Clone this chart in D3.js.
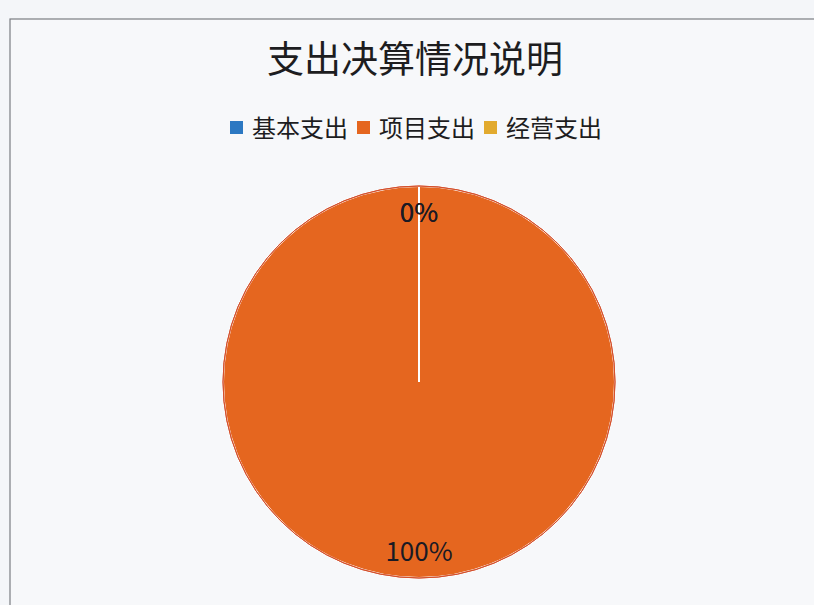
<!DOCTYPE html>
<meta charset='utf-8'>
<script src='https://d3js.org/d3.v7.min.js'></script>
<style>
body{margin:0;background:#f4f6f9;}
text{font-family:'Noto Sans CJK SC','Noto Sans',sans-serif;}
</style>
<svg id='chart'></svg>
<script>
// 支出决算情况说明 data
var categories=['基本支出','项目支出','经营支出'];
var values=[0,100,0];
var colors=['#2c78c2','#e5661f','#e2aa2e'];
var title='支出决算情况说明';

var width=814,height=605,
    cx=419,cy=382,radius=196;

var svg=d3.select('#chart').attr('width',width).attr('height',height);

svg.append('rect').attr('x',10).attr('y',19)
   .attr('width',width).attr('height',height)
   .attr('fill','#f7f8fa').attr('stroke','#7a7d82').attr('stroke-width',1.2);

svg.append('text').attr('x',cx-4).attr('y',73)
   .attr('text-anchor','middle').attr('font-size',37)
   .attr('fill','#1d1d1f').text(title);

// legend
var lx=230,ly=128;
var legend=svg.append('g').selectAll('g').data(categories).join('g')
   .attr('transform',function(d,i){return 'translate('+(lx+i*127)+','+ly+')';});
legend.append('rect').attr('x',0).attr('y',-7).attr('width',13).attr('height',13)
   .attr('fill',function(d,i){return colors[i];});
legend.append('text').attr('x',22).attr('y',8.5).attr('font-size',24)
   .attr('fill','#1d1d1f').text(function(d){return d;});

var pie=d3.pie().sort(null).value(function(d){return d;});
var arcs=pie(values);
var arc=d3.arc().innerRadius(0).outerRadius(radius);
var labelArc=d3.arc().innerRadius(radius*0.865).outerRadius(radius*0.865);
var total=d3.sum(values);
var fmt=d3.format('.0%');

var g=svg.append('g').attr('transform','translate('+cx+','+cy+')');
g.selectAll('path.slice').data(arcs).join('path').attr('class','slice')
   .attr('d',arc).attr('fill',function(d,i){return colors[i];})
   .attr('stroke','#ffffff').attr('stroke-width',2);
g.append('path').attr('d',d3.arc().innerRadius(radius).outerRadius(radius)
   ({startAngle:0,endAngle:2*Math.PI}))
   .attr('fill','none').attr('stroke','#d4502c').attr('stroke-width',1);
g.selectAll('text').data(arcs).join('text')
   .attr('transform',function(d){return 'translate('+labelArc.centroid(d)+')';})
   .attr('text-anchor','middle').attr('dy','0.35em').attr('font-size',26)
   .attr('fill','#1a1a24')
   .text(function(d){return fmt(d.value/total);});
</script>
